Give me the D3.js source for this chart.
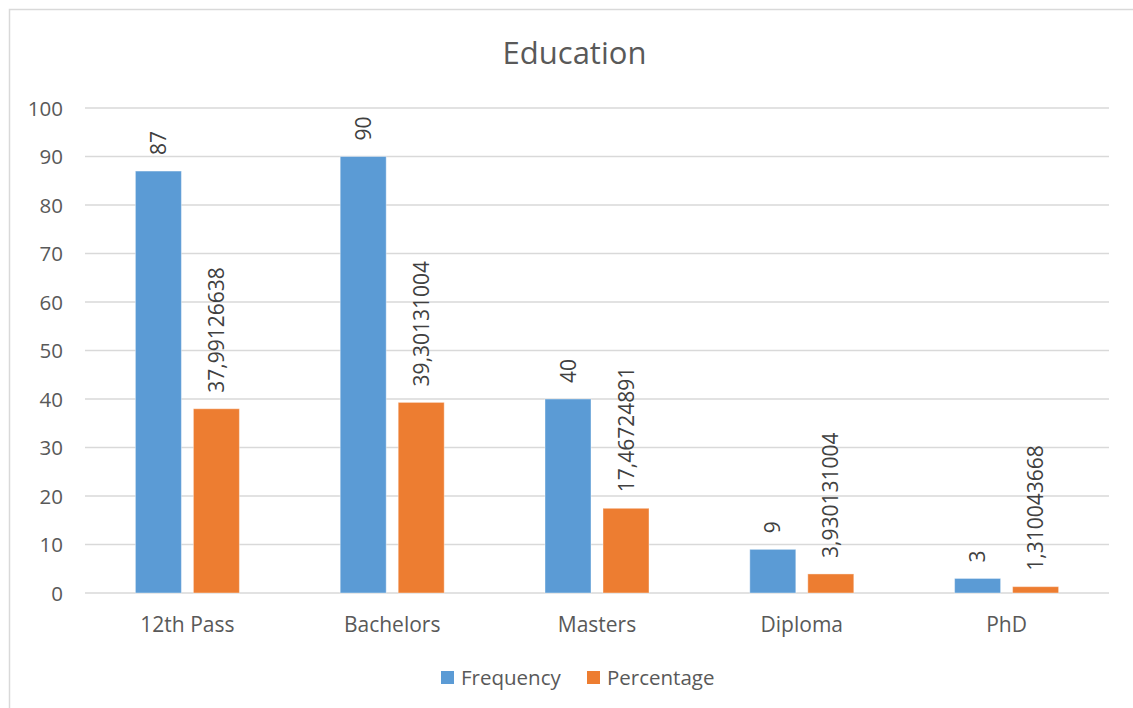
<!DOCTYPE html>
<html><head><meta charset="utf-8">
<script src="https://cdn.jsdelivr.net/npm/d3@7"></script>
<style>
html,body{margin:0;padding:0;background:#fff;}
svg{display:block;font-family:"Open Sans","Liberation Sans",sans-serif;}
</style></head>
<body>
<svg id="chart" width="1133" height="708"></svg>
<script>
const categories = ["12th Pass", "Bachelors", "Masters", "Diploma", "PhD"];
const seriesNames = ["Frequency", "Percentage"];
const frequency = [87, 90, 40, 9, 3];
const percentage = [37.99126638, 39.30131004, 17.46724891, 3.930131004, 1.310043668];
const yTicks = [0, 10, 20, 30, 40, 50, 60, 70, 80, 90, 100];
const colors = ["#5B9BD5", "#ED7D31"];
const chartTitle = "Education";

(function () {
const svg = d3.select("#chart");
const pLeft = 85, pRight = 1109, pTop = 108, pBottom = 593;

// border
svg.append("rect").attr("x", 9.5).attr("y", 9.5).attr("width", 1300).attr("height", 900)
  .attr("fill", "#fff").attr("stroke", "#d9d9d9").attr("stroke-width", 1.5);

const x0 = d3.scaleBand().domain(categories).range([pLeft, pRight]).padding(0);
const x1 = d3.scaleBand().domain(seriesNames).range([0, 104]).paddingInner(12/58).paddingOuter(0);
const y = d3.scaleLinear().domain([0, 100]).range([pBottom, pTop]);

// gridlines
svg.append("g").selectAll("line").data(yTicks).join("line")
  .attr("x1", pLeft).attr("x2", pRight)
  .attr("y1", d => y(d)).attr("y2", d => y(d))
  .attr("stroke", "#d9d9d9").attr("stroke-width", 1.5);

// y labels
const yAxis = d3.axisLeft(y).tickValues(yTicks).tickSize(0).tickPadding(0);
const ga = svg.append("g").attr("transform", `translate(${pLeft - 22},0)`).call(yAxis);
ga.select(".domain").remove();
ga.selectAll("text").attr("font-size", 20.5).attr("fill", "#595959")
  .attr("font-family", "'Open Sans','Liberation Sans',sans-serif").attr("dy", "0.36em");

// x labels
const xAxis = d3.axisBottom(x0).tickSize(0).tickPadding(0);
const gx = svg.append("g").attr("transform", `translate(0,${pBottom})`).call(xAxis);
gx.select(".domain").remove();
gx.selectAll("text").attr("font-size", 21).attr("fill", "#595959")
  .attr("font-family", "'Open Sans','Liberation Sans',sans-serif").attr("dy", null).attr("y", 39);

const rows = categories.map((c, i) => ({cat: c, vals: [
  {s: seriesNames[0], v: frequency[i], label: String(frequency[i])},
  {s: seriesNames[1], v: percentage[i], label: String(percentage[i]).replace(".", ",")}
]}));

const groups = svg.append("g").selectAll("g").data(rows).join("g")
  .attr("transform", d => `translate(${x0(d.cat) + x0.bandwidth()/2 - 52},0)`);

groups.selectAll("rect").data(d => d.vals).join("rect")
  .attr("x", d => x1(d.s)).attr("width", x1.bandwidth())
  .attr("y", d => y(d.v)).attr("height", d => y(0) - y(d.v))
  .attr("fill", (d, i) => colors[i])
  .attr("stroke", "#fff").attr("stroke-opacity", 0.4).attr("stroke-width", 1);

groups.selectAll("text").data(d => d.vals).join("text")
  .attr("transform", d => `translate(${x1(d.s) + x1.bandwidth()/2},${y(d.v) - 16}) rotate(-90)`)
  .attr("text-anchor", "start").attr("dy", "0.36em")
  .attr("font-size", 21).attr("fill", "#404040")
  .text(d => d.label);

// title
svg.append("text").attr("x", 574.5).attr("y", 64).attr("text-anchor", "middle")
  .attr("font-size", 31).attr("fill", "#595959").text(chartTitle);

// legend
const legendX = [441, 587];
const lg = svg.append("g").selectAll("g").data(seriesNames).join("g")
  .attr("transform", (d, i) => `translate(${legendX[i]},671)`);
lg.append("rect").attr("width", 13).attr("height", 13).attr("fill", (d, i) => colors[i]);
lg.append("text").attr("x", 20).attr("y", 14).attr("font-size", 20.5).attr("fill", "#595959").text(d => d);
})();
</script>
</body></html>
